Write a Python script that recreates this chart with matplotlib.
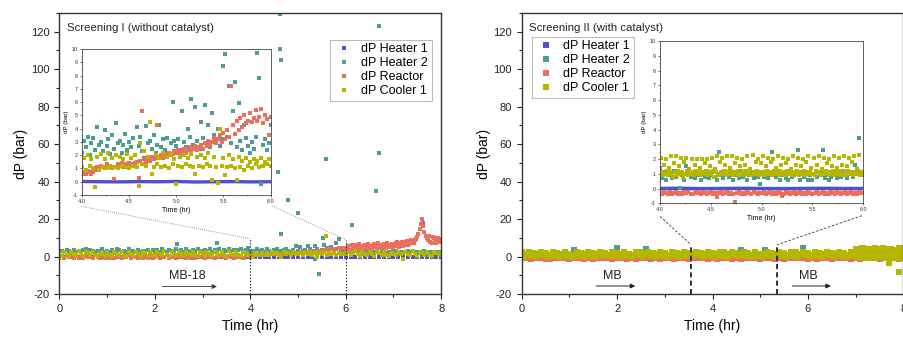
import numpy as np
import matplotlib
matplotlib.use("Agg")
import matplotlib.pyplot as plt
from matplotlib.lines import Line2D
from matplotlib.ticker import MultipleLocator

plt.rcParams['font.family'] = ['Liberation Sans', 'DejaVu Sans']
plt.rcParams['axes.unicode_minus'] = False

# ------------------------------------------------------------------
# Screening I (without catalyst): full run, sampled every 0.05 h from 0 h
# ------------------------------------------------------------------
s1_cooler1 = [
    1.8, 0.4, 2.6, 1.1, 0.2, 2.2, 1.5, 0.6, 2.8, 1.2, 0.3, 2.4, 1.7, 0.8, 2.5, 1.0, 0.2, 2.1, 1.4, 0.5,
    2.6, 1.1, 0.4, 2.3, 1.6, 0.7, 2.7, 1.0, 0.3, 2.2, 1.5, 0.6, 2.5, 1.2, 0.2, 2.4, 1.8, 0.5, 2.6, 1.0,
    0.4, 2.3, 1.4, 0.7, 2.8, 1.1, 0.3, 2.5, 1.6, 0.6, 2.2, 1.3, 0.2, 2.7, 1.5, 0.8, 2.4, 1.0, 0.4, 2.6,
    1.7, 0.5, 2.3, 1.2, 0.3, 2.6, 1.4, 0.7, 2.5, 1.0, 0.2, 2.8, 1.6, 0.6, 2.3, 1.1, 0.4, 2.5, 1.8, 0.6,
    1.0, -0.4, 2.0, 1.2, 0.9, 2.1, 1.1, 1.9, 0.8, 2.2, 1.3, 1.8, 1.1, -0.3, 2.4, 1.2, 1.9, 1.0, 2.2, 1.3,
    1.2, 2.0, 1.1, 1.9, 1.3, 2.2, 1.0, 1.8, -0.2, 2.1, 1.2, 2.3, 1.1, 1.7, 1.3, 2.0, 0.9, 1.8, 1.2, 1.6,
    1.4, 2.4, 0.6, 1.9, 2.8, 1.2, 0.3, 2.2, 1.6, 0.8, 2.6, 1.3, 0.5, 2.3, 1.7, 0.9, 2.5, 1.1, 0.4, 2.1,
    1.5, 0.7, 2.7, 1.2, -1.2, 2.4, 1.6, 0.8, 2.9, 1.3, 0.4, 2.2, 1.8, 0.9, 2.6, 1.1, 0.5, 2.4, 1.7, 0.8,
    1.9]
s1_heater2 = [
    2.6, 3.1, 2.2, 3.4, 2.8, 2.0, 3.6, 2.5, 3.0, 2.3, 3.3, 2.7, 2.1, 3.5, 2.9, 2.4, 3.2, 2.6, 3.8, 2.2,
    3.0, 2.5, 3.4, 2.1, 2.8, 3.6, 2.4, 3.1, 2.7, 3.9, 2.3, 3.2, 2.6, 3.5, 2.2, 3.0, 2.8, 3.7, 2.5, 3.3,
    2.7, 3.4, 2.3, 3.8, 2.9, 2.5, 3.6, 3.1, 2.4, 4.2, 2.8, 3.3, 2.6, 3.9, 3.0, 2.5, 3.5, 2.9, 4.0, 3.2,
    2.8, 3.6, 3.1, 4.1, 2.7, 3.4, 3.0, 3.8, 2.6, 3.5, 3.2, 4.3, 2.9, 3.7, 3.1, 3.4, 4.0, 2.8, 3.6, 4.4,
    2.4, 3.2, 2.6, 3.9, 2.9, 3.3, 2.7, 4.1, 3.0, 2.5, 3.6, 4.3, 3.1, 2.8, 3.4, 4.0, 3.2, 2.6, 3.5, 5.9,
    3.2, 5.2, 2.8, 3.6, 5.6, 4.0, 3.0, 5.8, 4.3, 2.9, 3.7, 6.2, 4.8, 3.3, 5.1, 2.6, 7.2, 9.5, 3.0, 2.7,
    2.2, 2.9, 1.8, 2.5, 3.1, 2.0, 2.7, 1.6, 2.4, 3.0, 1.9, 2.6, 2.2, 2.8, 1.7, 2.5, 3.2, 2.0, 2.6, 1.8,
    2.4, 3.0, 2.1, 2.7, 1.9, 2.5, 3.1, 2.2, 2.8, 2.0, 2.6, 1.8, 2.4, 3.0, 2.1, 2.7, 2.3, 1.9, 2.5, 2.2,
    2.6]
s1_reactor = [
    -0.6, 0.2, -0.9, 0.5, -0.3, 0.0, -0.8, 0.4, -0.5, 0.1, -0.7, 0.3, -0.4, -0.1, -0.9, 0.6, -0.2, -0.6, 0.2, -0.8,
    0.3, -0.5, 0.0, -0.9, 0.5, -0.3, -0.7, 0.2, -0.4, 0.6, -0.8, 0.1, -0.2, -0.6, 0.4, -0.9, 0.0, -0.5, 0.3, -0.7,
    -0.2, 0.5, -0.8, 0.1, -0.4, 0.6, -0.6, -0.1, 0.3, -0.9, 0.2, -0.3, 0.7, -0.7, 0.0, -0.5, 0.4, -0.8, 0.1, -0.4,
    0.5, -0.6, 0.2, -0.2, 0.8, -0.7, 0.3, -0.4, 0.6, -0.1, -0.8, 0.4, 0.0, -0.5, 0.7, -0.3, 0.2, -0.6, 0.5, 0.1,
    0.6, 0.7, 0.6, 0.8, 0.9, 1.1, 1.0, 1.2, 1.1, 1.3, 1.2, 1.4, 1.3, 1.5, 1.6, 1.4, 1.7, 1.6, 1.8, 1.9,
    2.0, 2.2, 2.1, 2.4, 2.3, 2.6, 2.5, 2.8, 2.7, 3.0, 3.2, 3.5, 3.4, 3.9, 4.1, 4.3, 4.2, 4.5, 4.4, 4.7,
    3.6, 5.6, 3.2, 5.0, 6.0, 3.9, 5.5, 4.4, 6.3, 3.8, 5.7, 4.6, 6.5, 4.2, 6.0, 4.9, 6.7, 4.5, 6.2, 5.3,
    4.8, 7.0, 5.5, 7.5, 5.9, 7.8, 6.4, 8.4, 7.0, 9.0, 10.5, 14.8, 20.0, 13.0, 9.8, 11.0, 7.5, 10.1, 7.2, 9.4,
    8.6]
# reactor readings in between, from 6.025 h every 0.05 h
s1_reactor_late = [
    4.8, 3.4, 6.1, 4.0, 5.2, 6.6, 3.7, 5.9, 4.5, 6.9, 4.1, 6.3, 5.0, 7.0, 4.4, 6.4, 5.6, 7.3, 4.9, 6.8,
    5.7, 7.6, 5.1, 8.0, 6.0, 8.3, 6.5, 8.8, 7.2, 9.6, 12.3, 17.5, 16.2, 10.8, 8.9, 7.9, 10.6, 8.5, 9.9, 7.7]
# heater 1 logged every 0.1 h
s1_heater1 = [
    -0.3, -0.2, -0.4, -0.1, -0.3, -0.2, -0.3, -0.4, -0.2, -0.3, -0.1, -0.3, -0.2, -0.4, -0.3, -0.2, -0.3, -0.1, -0.2, -0.3,
    -0.4, -0.2, -0.3, -0.3, -0.1, -0.2, -0.4, -0.3, -0.2, -0.3, -0.3, -0.2, -0.4, -0.1, -0.3, -0.2, -0.3, -0.4, -0.2, -0.3,
    -0.3, -0.2, -0.4, -0.3, -0.2, -0.3, -0.1, -0.3, -0.4, -0.2, -0.3, -0.2, -0.3, -0.4, -0.2, -0.3, -0.1, -0.3, -0.2, -0.4,
    -0.3, -0.2, -0.3, -0.4, -0.2, -0.3, -0.3, -0.1, -0.2, -0.4, -0.3, -0.2, -0.3, -0.2, -0.4, -0.3, -0.2, -0.3, -0.1, -0.3,
    -0.2]
# isolated heater 2 readings off the main band
s1_heater2_spike_t = [0.55, 1.20, 2.46, 3.30, 4.59, 4.63, 4.63, 4.64, 4.65, 4.78, 5.00, 5.36, 5.43, 5.53,
                      5.59, 6.13, 6.63, 6.69, 6.69, 7.63]
s1_heater2_spike_v = [3.9, 4.2, 6.6, 7.5, 45.2, 129.5, 110.9, 104.8, 12.2, 30.2, 23.4, -1.4, -9.3, 9.8,
                      52.2, 17.0, 34.8, 122.9, 55.0, 17.9]
s1_cooler1_spike_t = [5.59]
s1_cooler1_spike_v = [11.2]

# Screening I detail, 4-6 h, sampled every 0.02 h
d1_heater2 = [
    2.2, 3.1, 2.6, 3.4, 2.0, 2.9, 3.3, 2.4, 4.1, 2.8, 3.0, 2.3, 3.9, 2.7, 3.2, 2.1, 3.5, 2.5, 4.4, 2.9, 3.1, 2.2, 2.8, 3.6, 2.4,
    3.0, 2.6, 3.3, 2.0, 4.1, 2.7, 3.4, 2.3, 1.8, 4.2, 2.9, 3.1, 2.5, 3.5, 2.2, 2.8, 4.3, 2.6, 3.2, 2.4, 3.3, 2.1, 2.9, 6.0, 3.1,
    2.7, 3.2, 2.4, 5.3, 3.0, 2.6, 4.0, 3.4, 6.2, 2.8, 5.6, 3.1, 2.5, 4.5, 3.3, 5.8, 2.9, 4.3, 2.6, 5.2, 3.5, 3.0, 4.0, 2.7, 3.2,
    8.7, 9.6, 3.4, 7.2, 2.9, 5.3, 7.5, 2.6, 5.9, 3.1, 2.4, 4.3, 3.3, 2.7, 2.2, 3.0, 2.5, 3.4, 9.7, 7.8, -0.2, 2.8, 3.2, 2.4, 2.9,
    4.3]
d1_reactor = [
    0.6, 0.7, 0.6, 0.8, 0.7, 0.6, 0.7, 0.9, 1.1, 1.0, 1.2, 1.1, 1.0, 1.3, 1.1, 1.2, 1.0, 0.2, 1.1, 1.3, 1.2, 1.4, 1.1, 1.3, 1.2,
    1.4, 1.3, 1.2, 1.4, 1.5, 0.3, 1.6, 5.3, 1.7, 1.5, 1.8, 1.6, 1.9, 1.7, 1.8, 4.3, 1.9, 2.0, 1.8, 2.1, 1.9, 2.2, 2.0, 2.1, 2.3,
    2.2, 2.4, 2.1, 2.3, 2.5, 2.2, 2.4, 2.6, 2.3, 2.5, 2.7, 2.4, 2.6, 2.8, 2.5, 2.9, 2.7, 3.1, 2.8, 3.0, 3.3, 2.9, 3.2, 3.5, 3.0,
    3.7, 3.2, 3.9, 3.4, 7.2, 4.3, 3.6, 4.6, 3.9, 4.8, 4.1, 5.0, 4.4, 4.6, 5.2, 4.5, 4.8, 5.4, 4.6, 4.9, 5.5, 4.4, 5.0, 4.7, 3.5,
    4.9]
d1_cooler1 = [
    1.1, 1.8, 0.9, 2.0, 1.2, 1.7, 1.0, -0.4, 1.9, 0.9, 2.1, 1.1, 1.7, 1.0, 2.2, 1.2, 1.8, 1.1, 2.0, 1.0, 1.9, 1.2, 1.7, 1.1, 2.1,
    1.0, 1.8, 1.2, 2.0, 1.1, -0.3, 2.9, 1.3, 2.3, 1.2, 1.9, 4.5, 0.6, 1.1, 2.0, 1.3, 1.8, 1.1, 2.2, 1.2, 1.9, 1.0, 2.1, 1.3, 1.7,
    -0.2, 1.2, 1.9, 1.1, 2.0, 1.3, 1.8, 1.2, 2.1, 1.1, 0.6, 1.9, 1.2, 2.0, 1.1, 1.8, 1.3, 2.2, 1.2, 0.1, 1.9, 1.1, -0.1, 4.0, 1.2,
    1.8, 0.5, 1.1, 2.0, 1.2, 1.7, 1.0, 0.1, 1.9, 1.1, 1.6, 0.9, 1.8, 1.2, 1.5, 1.0, 1.7, 1.3, 1.6, 1.1, 1.8, 1.2, 1.5, 1.3, 1.7,
    1.2]
# heater 1 in the detail window, every 0.2 h
d1_heater1 = [0.02, 0.0, -0.01, 0.01, 0.0, 0.02, -0.02, 0.0, 0.01, -0.01, 0.0]

# ------------------------------------------------------------------
# Screening II (with catalyst): full run
# ------------------------------------------------------------------
s2_cooler1 = [  # every 0.05 h
    2.3, -0.1, 1.2, 2.5, 0.3, 1.7, -0.3, 1.5, 2.4, 0.6, 2.0, 0.0, 1.0, 2.2, 0.2, 1.8, -0.2, 1.3, 2.5, 0.4,
    1.6, -0.3, 1.1, 2.4, 0.5, 2.1, 0.0, 1.6, 2.5, 0.2, 1.8, -0.2, 1.3, 2.3, 0.7, 2.0, 0.1, 0.9, 2.4, 0.3,
    1.9, -0.1, 1.4, 2.5, 0.2, 1.6, -0.3, 1.0, 2.2, 0.6, 2.2, 0.0, 1.2, 2.5, 0.3, 1.8, -0.2, 1.5, 2.4, 0.4,
    2.1, 0.0, 1.0, 2.5, 0.5, 1.7, -0.3, 1.3, 2.3, 0.2, 2.1, -0.1, 1.1, 2.4, 0.7, 1.9, -0.2, 1.6, 2.5, 0.3,
    1.8, -0.1, 1.3, 2.4, 0.4, 2.2, -0.3, 0.9, 2.5, 0.6, 2.0, 0.1, 1.4, 2.2, 0.2, 1.8, -0.2, 1.0, 2.5, 0.5,
    1.6, 0.0, 1.2, 2.4, 0.3, 2.0, -0.3, 1.5, 2.3, 0.5, 1.9, -0.1, 1.0, 2.5, 0.2, 2.2, 0.0, 1.3, 2.4, 0.7,
    1.9, -0.1, 1.1, 2.5, 0.3, 2.1, -0.3, 1.6, 2.2, 0.6, 1.7, -0.2, 1.3, 2.5, 0.4, 2.0, 0.0, 1.0, 2.4, 0.2,
    4.2, -0.7, 1.8, 4.6, -0.2, 3.8, 0.8, -0.5, 4.4, 1.5, 3.2, -0.3, 4.1, 0.4, -3.5, 3.9, -0.6, 2.2, -8.4, 4.5,
    1.0]
# cooler 1 late section logged at a finer interval (0.025 h from 7 h)
s2_cooler1_late = [
    2.6, 0.6, 4.0, -0.5, 2.0, 4.5, 0.0, 1.5, 3.4, -0.7, 2.9, 0.9, 4.3, -0.2, 2.4, 3.7, -0.6, 1.1, 4.1, 0.2,
    3.2, -0.3, 1.9, 4.6, -0.7, 1.3, 3.8, 0.4, 2.8, -0.4, 4.2, 0.7, 2.2, 0.0, 3.6, 1.7, 4.6, -0.6, 2.5, 0.5,
    1.8]
# remaining channels logged every 0.1 h
s2_reactor = [
    -1.0, -0.6, -1.2, -0.8, -0.5, -1.1, -1.3, -0.7, -1.0, -0.6, -1.2, -0.9, -0.6, -1.1, -0.9, -1.3, -0.6, -1.0, -0.8, -1.2,
    -0.5, -1.0, -1.1, -0.7, -1.3, -0.9, -0.6, -1.1, -0.8, -1.2, -0.7, -1.0, -1.2, -0.8, -0.9, -1.3, -0.6, -1.0, -0.8, -1.1,
    -0.7, -1.2, -0.9, -0.6, -1.1, -0.9, -1.3, -0.7, -1.0, -0.8, -1.2, -0.9, -0.6, -1.1, -0.8, -1.3, -0.7, -1.0, -1.0, -0.6,
    -1.2, -0.9, -1.1, -0.7, -1.0, -1.2, -0.8, -0.9, -0.6, -1.1, -1.0, -1.3, -0.7, -1.0, -0.8, -1.2, -0.7, -1.0, -0.9, -1.1,
    -0.8]
s2_heater2 = [
    1.0, 0.7, 1.2, 0.9, 0.6, 1.1, 0.8, 1.3, 0.9, 0.7, 1.0, 3.6, 0.8, 1.2, 0.6, 1.0, 0.9, 1.1, 0.7, 1.0,
    4.6, 0.8, 1.2, 0.9, 0.6, 1.1, 4.1, 0.8, 1.0, 1.3, 0.7, 0.9, 1.1, 0.6, 1.0, 0.8, 1.2, 0.9, 0.7, 1.1,
    0.9, 0.6, 1.0, 1.2, 0.8, 1.0, 3.6, 0.7, 1.1, 0.9, 0.8, 3.3, 1.0, 0.6, 1.2, 0.9, 0.7, 1.1, 0.8, 4.6,
    1.0, 0.7, 1.2, 0.9, 0.6, 1.1, 0.8, 1.0, 0.9, 1.2, 0.7, 1.0, 0.8, 1.1, 0.6, 0.9, 1.2, 0.8, 1.0, 0.7,
    0.9]
s2_heater1 = [
    0.0, 0.1, -0.1, 0.0, 0.1, 0.0, -0.1, 0.0, 0.1, 0.0, -0.1, 0.0, 0.0, 0.1, -0.1, 0.0, 0.1, 0.0, -0.1, 0.0,
    0.1, 0.0, -0.1, 0.0, 0.1, 0.0, 0.0, -0.1, 0.1, 0.0, -0.1, 0.0, 0.1, 0.0, -0.1, 0.0, 0.1, 0.0, 0.0, -0.1,
    0.0]

# Screening II detail, 4-6 h
d2_cooler1 = [  # every 0.01 h
    1.0, 2.1, 1.1, 0.9, 1.6, 1.0, 2.0, 1.2, 0.9, 1.4, 1.1, 2.2, 1.0, 0.8, 1.7, 1.1, 2.2, 0.9, 1.2, 1.5,
    1.0, 2.1, 1.1, 0.8, 1.8, 1.0, 2.1, 1.2, 0.9, 1.3, 1.0, 2.0, 1.1, 0.9, 1.6, 1.2, 2.0, 1.0, 1.1, 1.4,
    0.9, 2.0, 1.1, 1.0, 1.7, 1.2, 2.0, 0.9, 1.1, 1.5, 1.0, 2.1, 1.2, 0.8, 1.3, 1.1, 2.2, 1.0, 0.9, 1.8,
    1.1, 2.1, 1.0, 1.2, 1.6, 0.9, 2.2, 1.1, 1.0, 1.4, 1.2, 2.2, 0.9, 1.1, 1.7, 1.0, 2.1, 1.2, 0.9, 1.5,
    1.0, 2.0, 1.1, 0.9, 1.6, 1.2, 2.2, 1.0, 1.1, 1.3, 0.9, 2.3, 1.1, 1.0, 1.8, 1.2, 2.0, 0.9, 1.1, 1.7,
    1.0, 2.2, 1.1, 0.9, 1.5, 1.2, 2.1, 1.0, 1.1, 1.8, 0.9, 2.0, 1.2, 1.0, 1.4, 1.1, 2.2, 0.9, 1.2, 1.6,
    1.0, 2.1, 1.1, 0.9, 1.7, 1.2, 2.0, 1.0, 1.1, 1.3, 0.9, 2.2, 1.1, 1.0, 1.6, 1.2, 2.1, 0.9, 1.1, 1.5,
    1.0, 2.0, 1.2, 0.9, 1.8, 1.1, 2.2, 1.0, 1.1, 1.4, 1.0, 2.1, 0.9, 1.2, 1.6, 1.1, 2.2, 1.0, 0.9, 1.3,
    1.1, 2.1, 1.0, 1.2, 1.7, 0.9, 2.0, 1.1, 1.0, 1.5, 1.2, 2.2, 0.9, 1.1, 1.4, 1.0, 2.1, 1.2, 0.9, 1.6,
    1.0, 2.2, 1.1, 0.9, 1.5, 1.2, 2.1, 1.0, 1.1, 1.8, 0.9, 2.2, 1.1, 1.0, 1.3, 1.2, 2.3, 0.9, 1.1, 1.0,
    1.1]
d2_heater2 = [  # every 0.02 h
    1.4, 0.7, 1.1, 0.6, 0.9, 1.0, 0.7, 1.2, 0.8, 1.0, 0.05, 0.9, 0.6, 1.5, 1.1, 0.8, 1.0, 0.7, 0.9, 1.1, 0.6, 1.0, 0.8, 1.2, 0.7,
    0.9, 1.1, 0.8, 0.6, 2.5, 1.0, 0.7, 1.2, 0.9, 0.8, 1.1, 0.6, 1.0, 0.9, 0.7, 1.2, 0.8, 1.0, 0.6, 0.9, 1.1, 0.7, 1.0, 0.8, 0.3,
    1.0, 0.8, 1.1, 0.7, 0.9, 2.5, 1.0, 0.8, 1.2, 0.6, 0.9, 1.1, 0.7, 0.6, 1.0, 0.8, 0.9, 1.1, 2.6, 0.6, 1.0, 0.8, 1.1, 0.6, 0.9,
    0.6, 1.0, 0.8, 1.1, 0.9, 2.6, 0.7, 1.0, 0.6, 0.8, 1.1, 0.9, 0.7, 1.0, 0.8, 1.2, 0.9, 0.7, 1.0, 1.1, 0.8, 1.6, 1.0, 3.4, 0.9,
    0.9]
d2_reactor = [  # every 0.02 h
    -0.3, -0.4, -0.2, -0.3, -0.35, -0.25, -0.4, -0.3, -0.2, -0.35, -0.3, -0.4, -0.25, -0.3, -0.2, -0.35, -0.4, -0.3, -0.25, -0.3,
    -0.35, -0.2, -0.3, -0.4, -0.3,
    -0.25, -0.35, -0.3, -0.6, -0.3, -0.2, -0.4, -0.3, -0.25, -0.35, -0.3, -0.4, -0.9, -0.3, -0.2, -0.35, -0.3, -0.4, -0.25, -0.3,
    -0.35, -0.2, -0.3, -0.4, -0.3,
    -0.3, -0.25, -0.4, -0.3, -0.2, -0.35, -0.3, -0.4, -0.25, -0.3, -0.5, -0.35, -0.2, -0.3, -0.4, -0.3, -0.25, -0.35, -0.3, -0.2,
    -0.4, -0.3, -0.35, -0.25, -0.3,
    -0.4, -0.3, -0.2, -0.35, -0.3, -0.25, -0.4, -0.3, -0.35, -0.2, -0.3, -0.4, -0.25, -0.3, -0.35, -0.3, -0.2, -0.4, -0.3, -0.25,
    -0.35, -0.3, -0.4, -0.2, -0.3,
    -0.3]
d2_heater1 = [0.0, 0.01, -0.01, 0.0, 0.01, 0.0, -0.01, 0.0, 0.01, 0.0, 0.0]

series_names = ['dP Heater 1', 'dP Heater 2', 'dP Reactor', 'dP Cooler 1']
colors = ['#5050cc', '#4e9c99', '#e8705c', '#b6b600']


def times(start, step, values):
    return start + step * np.arange(len(values))


fig = plt.figure(figsize=(9.04, 3.38), dpi=100)
axL = fig.add_axes([0.0658, 0.130, 0.4222, 0.832])
axR = fig.add_axes([0.5771, 0.130, 0.4222, 0.832])

for ax in (axL, axR):
    ax.set_xlim(0, 8)
    ax.set_ylim(-20, 130)
    ax.xaxis.set_major_locator(MultipleLocator(2))
    ax.xaxis.set_minor_locator(MultipleLocator(1))
    ax.yaxis.set_major_locator(MultipleLocator(20))
    ax.yaxis.set_minor_locator(MultipleLocator(10))
    ax.tick_params(which='both', direction='out', labelsize=8, colors='#222222')
    ax.tick_params(which='major', length=3.5, width=0.8)
    ax.tick_params(which='minor', length=2, width=0.8)
    ax.tick_params(top=False, right=False)
    for sp in ax.spines.values():
        sp.set_color('#333333')
        sp.set_linewidth(1.0)
    ax.set_xlabel('Time (hr)', fontsize=10, labelpad=4)
    ax.set_ylabel('dP (bar)', fontsize=10, labelpad=2)

# ---- Screening I main ----
MS_L = 11
axL.scatter(times(0, 0.1, s1_heater1), s1_heater1, s=MS_L, marker='s', lw=0, color=colors[0], zorder=2)
axL.scatter(times(0, 0.05, s1_heater2), s1_heater2, s=MS_L, marker='s', lw=0, color=colors[1], zorder=2)
axL.scatter(s1_heater2_spike_t, s1_heater2_spike_v, s=MS_L, marker='s', lw=0, color=colors[1], zorder=2)
axL.scatter(times(0, 0.05, s1_reactor), s1_reactor, s=MS_L, marker='s', lw=0, color=colors[2], zorder=2)
axL.scatter(times(6.025, 0.05, s1_reactor_late), s1_reactor_late, s=MS_L, marker='s', lw=0, color=colors[2], zorder=2)
axL.scatter(times(0, 0.05, s1_cooler1), s1_cooler1, s=MS_L, marker='s', lw=0, color=colors[3], zorder=2)
axL.scatter(s1_cooler1_spike_t, s1_cooler1_spike_v, s=MS_L, marker='s', lw=0, color=colors[3], zorder=2)

axL.text(0.02, 0.965, 'Screening I (without catalyst)', transform=axL.transAxes, fontsize=8.2,
         va='top', ha='left', color='#222222')

# zoom window markers and connectors
axL.plot([4, 4], [-20, 9.5], ls=(0, (1, 1.5)), color='#222222', lw=0.9, zorder=3)
axL.plot([6, 6], [-20, 9.0], ls=(0, (1, 1.5)), color='#222222', lw=0.9, zorder=3)
axL.plot([0.46, 4], [26.8, 9.5], ls=(0, (1, 1.5)), color='#777777', lw=0.6, zorder=3)
axL.plot([4.46, 6], [27.0, 9.0], ls=(0, (1, 1.5)), color='#777777', lw=0.6, zorder=3)

axL.annotate('', xy=(3.3, -16), xytext=(2.15, -16),
             arrowprops=dict(arrowstyle='-|>', color='#333333', lw=0.6, mutation_scale=7, shrinkA=0, shrinkB=0))
axL.text(2.68, -10.5, 'MB-18', fontsize=9, ha='center', va='center', color='#222222')

hL = [Line2D([], [], ls='none', marker='s', ms=2.6, mew=0, color=c) for c in colors]
legL = axL.legend(hL, series_names, loc='upper left', bbox_to_anchor=(0.709, 0.905), borderaxespad=0,
                  fontsize=9, frameon=True, fancybox=False, handlelength=1.6, handletextpad=0.6,
                  labelspacing=0.15, borderpad=0.3)
legL.get_frame().set_edgecolor('#aaaaaa')
legL.get_frame().set_linewidth(0.8)

# ---- Screening II main ----
MS_R = 15
axR.scatter(times(0, 0.2, s2_heater1), s2_heater1, s=MS_R, marker='s', lw=0, color=colors[0], zorder=2)
axR.scatter(times(0, 0.1, s2_heater2), s2_heater2, s=MS_R, marker='s', lw=0, color=colors[1], zorder=2)
axR.scatter(times(0, 0.1, s2_reactor), s2_reactor, s=MS_R, marker='s', lw=0, color=colors[2], zorder=2)
axR.scatter(times(0, 0.05, s2_cooler1), s2_cooler1, s=MS_R, marker='s', lw=0, color=colors[3], zorder=2)
axR.scatter(times(7.0, 0.025, s2_cooler1_late), s2_cooler1_late, s=MS_R, marker='s', lw=0, color=colors[3], zorder=2)

axR.text(0.02, 0.965, 'Screening II (with catalyst)', transform=axR.transAxes, fontsize=8.2,
         va='top', ha='left', color='#222222')

axR.plot([3.55, 3.55], [-20, 6.3], ls=(0, (3, 2)), color='#111111', lw=1.2, zorder=3)
axR.plot([5.35, 5.35], [-20, 6.3], ls=(0, (3, 2)), color='#111111', lw=1.2, zorder=3)
axR.plot([2.9, 3.55], [21.4, 6.3], ls=(0, (3, 2)), color='#333333', lw=0.6, zorder=3)
axR.plot([7.13, 5.35], [21.8, 6.3], ls=(0, (3, 2)), color='#333333', lw=0.6, zorder=3)

for x0, x1, xt in [(1.56, 2.38, 1.91), (5.67, 6.48, 6.01)]:
    axR.annotate('', xy=(x1, -15.7), xytext=(x0, -15.7),
                 arrowprops=dict(arrowstyle='-|>', color='#222222', lw=0.7, mutation_scale=7, shrinkA=0, shrinkB=0))
    axR.text(xt, -10.5, 'MB', fontsize=9, ha='center', va='center', color='#222222')

hR = [Line2D([], [], ls='none', marker='s', ms=4.5, mew=0, color=c) for c in colors]
legR = axR.legend(hR, series_names, loc='upper left', bbox_to_anchor=(0.027, 0.915), borderaxespad=0,
                  fontsize=9, frameon=True, fancybox=False, handlelength=1.6, handletextpad=0.6,
                  labelspacing=0.15, borderpad=0.3)
legR.get_frame().set_edgecolor('#aaaaaa')
legR.get_frame().set_linewidth(0.8)


# ---- detail insets ----
def style_inset(ax):
    ax.set_xlim(4.0, 6.0)
    ax.set_ylim(-1, 10)
    ax.set_xticks([4.0, 4.5, 5.0, 5.5, 6.0])
    ax.set_xticklabels(['4.0', '4.5', '5.0', '5.5', '6.0'])
    ax.set_yticks(range(-1, 11))
    ax.xaxis.set_minor_locator(MultipleLocator(0.25))
    ax.yaxis.set_minor_locator(MultipleLocator(0.5))
    ax.tick_params(which='both', direction='out', labelsize=4, pad=1.2, colors='#333333')
    ax.tick_params(which='major', length=1.6, width=0.5)
    ax.tick_params(which='minor', length=0.9, width=0.4)
    for sp in ax.spines.values():
        sp.set_color('#444444')
        sp.set_linewidth(0.6)
    ax.set_xlabel('Time (hr)', fontsize=5, labelpad=2)
    ax.set_ylabel('dP (bar)', fontsize=4.5, labelpad=2)


MS_IN = 6.5
inL = fig.add_axes([0.0907, 0.423, 0.2087, 0.432])
style_inset(inL)
inL.plot(times(4.0, 0.2, d1_heater1), d1_heater1, color=colors[0], lw=2.4, zorder=2)
inL.scatter(times(4.0, 0.02, d1_heater2), d1_heater2, s=MS_IN, marker='s', lw=0, color=colors[1], zorder=2)
inL.scatter(times(4.0, 0.02, d1_reactor), d1_reactor, s=MS_IN, marker='s', lw=0, color=colors[2], zorder=2)
inL.scatter(times(4.0, 0.02, d1_cooler1), d1_cooler1, s=MS_IN, marker='s', lw=0, color=colors[3], zorder=2)

inR = fig.add_axes([0.7301, 0.3985, 0.2249, 0.480])
style_inset(inR)
inR.plot(times(4.0, 0.2, d2_heater1), d2_heater1, color=colors[0], lw=2.6, zorder=2)
inR.scatter(times(4.0, 0.02, d2_reactor), d2_reactor, s=MS_IN, marker='s', lw=0, color=colors[2], zorder=2)
inR.scatter(times(4.0, 0.02, d2_heater2), d2_heater2, s=MS_IN, marker='s', lw=0, color=colors[1], zorder=2)
inR.scatter(times(4.0, 0.01, d2_cooler1), d2_cooler1, s=MS_IN, marker='s', lw=0, color=colors[3], zorder=2)

fig.savefig('out.png', dpi=100)
